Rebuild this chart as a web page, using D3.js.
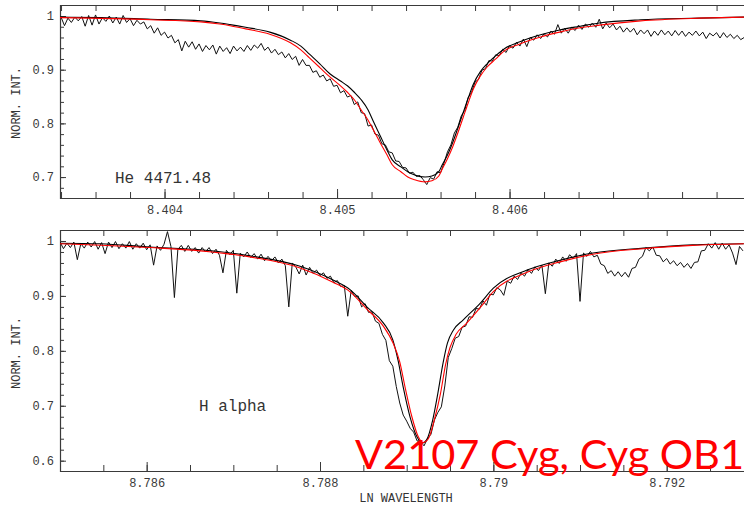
<!DOCTYPE html>
<html><head><meta charset="utf-8">
<script src="https://cdn.jsdelivr.net/npm/d3@7"></script>
<style>body{margin:0;background:#fff}svg{display:block}</style>
</head><body><svg id="c" width="744" height="505"></svg>
<script>
// ---------- DATA (wavelength = ln lambda, normalized intensity) ----------
const heObs = [
[8.40340,0.998],[8.40342,0.982],[8.40344,0.996],[8.40346,0.988],[8.40348,0.998],[8.40350,0.991],[8.40352,0.999],[8.40354,0.981],[8.40356,1.001],[8.40358,0.983],
[8.40360,1.002],[8.40362,0.985],[8.40364,0.997],[8.40366,0.990],[8.40368,1.000],[8.40370,0.987],[8.40372,0.998],[8.40374,0.985],[8.40376,1.001],[8.40378,0.988],
[8.40380,0.995],[8.40382,0.982],[8.40384,0.992],[8.40386,0.985],[8.40388,0.989],[8.40390,0.976],[8.40392,0.982],[8.40394,0.968],[8.40396,0.978],[8.40398,0.964],
[8.40400,0.970],[8.40402,0.959],[8.40404,0.964],[8.40406,0.950],[8.40408,0.956],[8.40410,0.935],[8.40412,0.953],[8.40414,0.942],[8.40416,0.952],[8.40418,0.938],
[8.40420,0.948],[8.40422,0.934],[8.40424,0.945],[8.40426,0.937],[8.40428,0.946],[8.40430,0.929],[8.40432,0.944],[8.40434,0.934],[8.40436,0.941],[8.40438,0.930],
[8.40440,0.944],[8.40442,0.935],[8.40444,0.942],[8.40446,0.934],[8.40448,0.945],[8.40450,0.936],[8.40452,0.946],[8.40454,0.940],[8.40456,0.949],[8.40458,0.936],
[8.40460,0.942],[8.40462,0.931],[8.40464,0.938],[8.40466,0.928],[8.40468,0.933],[8.40470,0.922],[8.40472,0.930],[8.40474,0.919],[8.40476,0.925],[8.40478,0.908],
[8.40480,0.919],[8.40482,0.908],[8.40484,0.908],[8.40486,0.895],[8.40488,0.898],[8.40490,0.886],[8.40492,0.890],[8.40494,0.879],[8.40496,0.883],[8.40498,0.869],
[8.40500,0.871],[8.40502,0.857],[8.40504,0.861],[8.40506,0.849],[8.40508,0.852],[8.40510,0.835],[8.40512,0.840],[8.40514,0.820],[8.40516,0.818],[8.40518,0.795],
[8.40520,0.797],[8.40522,0.780],[8.40524,0.778],[8.40526,0.762],[8.40528,0.760],[8.40530,0.747],[8.40532,0.745],[8.40534,0.730],[8.40536,0.729],[8.40538,0.718],
[8.40540,0.717],[8.40542,0.707],[8.40544,0.709],[8.40546,0.701],[8.40548,0.703],[8.40550,0.695],[8.40552,0.686],[8.40554,0.699],[8.40556,0.696],[8.40558,0.710],
[8.40560,0.708],[8.40562,0.726],[8.40564,0.747],[8.40566,0.760],[8.40568,0.782],[8.40570,0.793],[8.40572,0.814],[8.40574,0.824],[8.40576,0.848],[8.40578,0.858],
[8.40580,0.877],[8.40582,0.882],[8.40584,0.899],[8.40586,0.902],[8.40588,0.917],[8.40590,0.916],[8.40592,0.928],[8.40594,0.926],[8.40596,0.938],[8.40598,0.932],
[8.40600,0.945],[8.40602,0.940],[8.40604,0.951],[8.40606,0.944],[8.40608,0.957],[8.40610,0.943],[8.40612,0.960],[8.40614,0.955],[8.40616,0.965],[8.40618,0.958],
[8.40620,0.967],[8.40622,0.961],[8.40624,0.972],[8.40626,0.966],[8.40628,0.984],[8.40630,0.968],[8.40632,0.977],[8.40634,0.968],[8.40636,0.979],[8.40638,0.973],
[8.40640,0.983],[8.40642,0.975],[8.40644,0.985],[8.40646,0.979],[8.40648,0.987],[8.40650,0.979],[8.40652,0.994],[8.40654,0.976],[8.40656,0.987],[8.40658,0.978],
[8.40660,0.985],[8.40662,0.974],[8.40664,0.981],[8.40666,0.970],[8.40668,0.978],[8.40670,0.970],[8.40672,0.977],[8.40674,0.965],[8.40676,0.974],[8.40678,0.967],
[8.40680,0.974],[8.40682,0.962],[8.40684,0.972],[8.40686,0.964],[8.40688,0.974],[8.40690,0.965],[8.40692,0.972],[8.40694,0.963],[8.40696,0.973],[8.40698,0.964],
[8.40700,0.972],[8.40702,0.962],[8.40704,0.970],[8.40706,0.964],[8.40708,0.972],[8.40710,0.963],[8.40712,0.970],[8.40714,0.958],[8.40716,0.968],[8.40718,0.963],
[8.40720,0.969],[8.40722,0.959],[8.40724,0.969],[8.40726,0.960],[8.40728,0.966],[8.40730,0.958],[8.40732,0.964],[8.40734,0.956],[8.40736,0.960]
];
const heModelBlack = [
[8.40339,0.998],[8.40363,0.997],[8.40392,0.994],[8.40421,0.991],[8.40432,0.987],[8.40438,0.984],[8.40447,0.979],[8.40461,0.970],[8.40473,0.955],[8.40479,0.944],
[8.40484,0.929],[8.40490,0.911],[8.40496,0.892],[8.40502,0.879],[8.40506,0.870],[8.40510,0.858],[8.40514,0.844],[8.40518,0.825],[8.40521,0.804],[8.40525,0.777],
[8.40529,0.750],[8.40532,0.732],[8.40537,0.719],[8.40541,0.710],[8.40545,0.704],[8.40551,0.700],[8.40555,0.702],[8.40559,0.710],[8.40561,0.723],[8.40564,0.741],
[8.40567,0.764],[8.40570,0.791],[8.40573,0.819],[8.40576,0.847],[8.40579,0.873],[8.40583,0.896],[8.40587,0.911],[8.40592,0.926],[8.40597,0.939],[8.40606,0.952],
[8.40618,0.965],[8.40629,0.974],[8.40641,0.981],[8.40652,0.987],[8.40676,0.993],[8.40710,0.996],[8.40736,0.998]
];
const heModelRed = [
[8.40339,0.997],[8.40392,0.993],[8.40421,0.989],[8.40432,0.985],[8.40438,0.982],[8.40447,0.976],[8.40461,0.966],[8.40473,0.950],[8.40479,0.937],[8.40484,0.922],
[8.40490,0.904],[8.40496,0.886],[8.40502,0.870],[8.40506,0.858],[8.40510,0.844],[8.40514,0.825],[8.40518,0.806],[8.40521,0.788],[8.40525,0.764],[8.40529,0.741],
[8.40532,0.723],[8.40537,0.710],[8.40541,0.700],[8.40545,0.695],[8.40551,0.691],[8.40555,0.693],[8.40559,0.702],[8.40561,0.715],[8.40564,0.734],[8.40567,0.756],
[8.40570,0.782],[8.40573,0.810],[8.40576,0.838],[8.40579,0.864],[8.40583,0.888],[8.40587,0.905],[8.40592,0.920],[8.40597,0.935],[8.40606,0.948],[8.40618,0.961],
[8.40629,0.970],[8.40641,0.978],[8.40652,0.983],[8.40676,0.991],[8.40710,0.996],[8.40736,0.998]
];
const haObs = [
[8.78500,0.998],[8.78504,0.986],[8.78508,0.996],[8.78512,0.988],[8.78516,0.998],[8.78520,0.966],[8.78524,0.995],[8.78528,0.987],[8.78532,0.998],[8.78536,0.989],
[8.78540,0.999],[8.78544,0.985],[8.78548,0.997],[8.78552,0.977],[8.78556,0.998],[8.78560,0.988],[8.78564,0.999],[8.78568,0.986],[8.78572,0.995],[8.78576,0.987],
[8.78580,0.999],[8.78584,0.985],[8.78588,0.995],[8.78592,0.987],[8.78596,0.996],[8.78600,0.984],[8.78604,0.993],[8.78608,0.956],[8.78612,0.991],[8.78616,0.983],
[8.78620,0.994],[8.78624,1.017],[8.78628,0.990],[8.78632,0.897],[8.78636,0.985],[8.78640,0.992],[8.78644,0.981],[8.78648,0.992],[8.78652,0.981],[8.78656,0.988],
[8.78660,0.978],[8.78664,0.988],[8.78668,0.980],[8.78672,0.988],[8.78676,0.977],[8.78680,0.985],[8.78684,0.974],[8.78688,0.942],[8.78692,0.983],[8.78696,0.975],
[8.78700,0.983],[8.78704,0.905],[8.78708,0.978],[8.78712,0.971],[8.78716,0.980],[8.78720,0.970],[8.78724,0.977],[8.78728,0.967],[8.78732,0.976],[8.78736,0.964],
[8.78740,0.972],[8.78744,0.964],[8.78748,0.971],[8.78752,0.960],[8.78756,0.967],[8.78760,0.955],[8.78764,0.880],[8.78768,0.960],[8.78772,0.953],[8.78776,0.940],
[8.78780,0.956],[8.78784,0.938],[8.78788,0.952],[8.78792,0.941],[8.78796,0.947],[8.78800,0.937],[8.78804,0.942],[8.78808,0.932],[8.78812,0.936],[8.78816,0.924],
[8.78820,0.928],[8.78824,0.917],[8.78828,0.919],[8.78832,0.863],[8.78836,0.910],[8.78840,0.899],[8.78844,0.900],[8.78848,0.880],[8.78852,0.886],[8.78856,0.870],
[8.78860,0.871],[8.78864,0.854],[8.78868,0.850],[8.78872,0.830],[8.78876,0.819],[8.78880,0.782],[8.78884,0.772],[8.78888,0.735],[8.78892,0.705],[8.78896,0.683],
[8.78900,0.672],[8.78904,0.659],[8.78908,0.652],[8.78912,0.636],[8.78916,0.635],[8.78920,0.627],[8.78924,0.640],[8.78928,0.648],[8.78932,0.674],[8.78936,0.688],
[8.78940,0.698],[8.78944,0.736],[8.78948,0.788],[8.78952,0.804],[8.78956,0.823],[8.78960,0.826],[8.78964,0.843],[8.78968,0.845],[8.78972,0.862],[8.78976,0.861],
[8.78980,0.877],[8.78984,0.876],[8.78988,0.891],[8.78992,0.883],[8.78996,0.903],[8.79000,0.902],[8.79004,0.915],[8.79008,0.911],[8.79012,0.901],[8.79016,0.927],
[8.79020,0.923],[8.79024,0.936],[8.79028,0.930],[8.79032,0.942],[8.79036,0.936],[8.79040,0.948],[8.79044,0.941],[8.79048,0.953],[8.79052,0.946],[8.79056,0.956],
[8.79060,0.904],[8.79064,0.960],[8.79068,0.954],[8.79072,0.967],[8.79076,0.959],[8.79080,0.971],[8.79084,0.963],[8.79088,0.975],[8.79092,0.968],[8.79096,0.977],
[8.79100,0.890],[8.79104,0.978],[8.79108,0.972],[8.79112,0.981],[8.79116,0.971],[8.79120,0.974],[8.79124,0.958],[8.79128,0.955],[8.79132,0.941],[8.79136,0.946],
[8.79140,0.936],[8.79144,0.944],[8.79148,0.935],[8.79152,0.943],[8.79156,0.934],[8.79160,0.950],[8.79164,0.952],[8.79168,0.967],[8.79172,0.972],[8.79176,0.988],
[8.79180,0.982],[8.79184,0.989],[8.79188,0.974],[8.79192,0.973],[8.79196,0.962],[8.79200,0.968],[8.79204,0.958],[8.79208,0.964],[8.79212,0.955],[8.79216,0.961],
[8.79220,0.952],[8.79224,0.959],[8.79228,0.950],[8.79232,0.961],[8.79236,0.962],[8.79240,0.982],[8.79244,0.983],[8.79248,0.995],[8.79252,0.987],[8.79256,0.997],
[8.79260,0.985],[8.79264,0.996],[8.79268,0.985],[8.79272,0.993],[8.79276,0.978],[8.79280,0.957],[8.79284,0.990],[8.79288,0.982]
];
const haModelBlack = [
[8.78500,0.996],[8.78546,0.995],[8.78604,0.989],[8.78662,0.984],[8.78719,0.973],[8.78777,0.954],[8.78815,0.929],[8.78835,0.911],[8.78854,0.880],[8.78873,0.851],
[8.78884,0.820],[8.78890,0.783],[8.78896,0.734],[8.78904,0.679],[8.78912,0.643],[8.78918,0.632],[8.78923,0.638],[8.78930,0.674],[8.78936,0.723],[8.78942,0.778],
[8.78947,0.814],[8.78954,0.838],[8.78965,0.856],[8.78985,0.887],[8.79000,0.914],[8.79039,0.947],[8.79077,0.965],[8.79115,0.978],[8.79173,0.987],[8.79230,0.993],
[8.79289,0.995]
];
const haModelRed = [
[8.78500,0.995],[8.78604,0.988],[8.78662,0.982],[8.78719,0.971],[8.78777,0.951],[8.78815,0.925],[8.78835,0.907],[8.78854,0.876],[8.78873,0.845],[8.78884,0.815],
[8.78892,0.780],[8.78898,0.735],[8.78906,0.680],[8.78913,0.645],[8.78919,0.633],[8.78925,0.640],[8.78932,0.675],[8.78939,0.722],[8.78945,0.776],[8.78950,0.806],
[8.78957,0.830],[8.78969,0.850],[8.78985,0.879],[8.79000,0.908],[8.79039,0.943],[8.79077,0.962],[8.79115,0.976],[8.79173,0.986],[8.79230,0.992],[8.79289,0.995]
];
const heXLabels = [8.404, 8.405, 8.406];
const haXLabels = [8.786, 8.788, 8.79, 8.792];
const heYLabels = [0.7, 0.8, 0.9, 1];
const haYLabels = [0.6, 0.7, 0.8, 0.9, 1];
const panelLabels = ["He 4471.48", "H alpha"];
const yTitle = "NORM. INT.";
const xTitle = "LN WAVELENGTH";
const title = "V2107 Cyg, Cyg OB1";

// ---------- DRAW ----------
const svg = d3.select("#c");
svg.append("rect").attr("width",744).attr("height",505).attr("fill","#fff");
const fontMono = "'Liberation Mono','DejaVu Sans Mono',monospace";
const axisColor = "#3a3a3a";

const panels = [
  {obs: heObs, black: heModelBlack, red: heModelRed, xl: heXLabels, yl: heYLabels, label: panelLabels[0],
   xd:[8.403394, 8.407359], yd:[0.661, 1.0205], top:5, bottom:198, minorX:0.0002, xStart:8.4034, labelPos:[115,183], yTitleY:103},
  {obs: haObs, black: haModelBlack, red: haModelRed, xl: haXLabels, yl: haYLabels, label: panelLabels[1],
   xd:[8.785, 8.792892], yd:[0.5812, 1.02], top:230, bottom:471, minorX:0.0005, xStart:8.785, labelPos:[199,411], yTitleY:353}
];
const left = 60, right = 744;

panels.forEach((p, pi) => {
  const x = d3.scaleLinear().domain(p.xd).range([left, right]);
  const y = d3.scaleLinear().domain(p.yd).range([p.bottom, p.top]);
  const g = svg.append("g");
  const clipId = "clip" + pi;
  svg.append("clipPath").attr("id", clipId).append("rect")
     .attr("x", left).attr("y", p.top).attr("width", right-left).attr("height", p.bottom-p.top);

  // minor tick values
  const nx = Math.floor((p.xd[1]-p.xStart)/p.minorX + 1e-6);
  const minorXs = d3.range(0, nx+1).map(k => +(p.xStart + k*p.minorX).toFixed(5)).filter(v => v>p.xd[0] && v<p.xd[1]);
  const y0 = Math.ceil(p.yd[0]*50)/50;
  const minorYs = d3.range(0, Math.round((1.0 - y0)*50)+1).map(k => +(y0 + k*0.02).toFixed(2));

  // bottom axis: minor ticks (inward)
  g.append("g").attr("transform",`translate(0,${p.bottom})`)
    .call(d3.axisBottom(x).tickValues(minorXs).tickSizeInner(-6).tickSizeOuter(0).tickFormat(""))
    .call(s => s.select(".domain").remove());
  // bottom axis: major ticks + labels
  g.append("g").attr("transform",`translate(0,${p.bottom})`)
    .call(d3.axisBottom(x).tickValues(p.xl).tickSizeInner(-9).tickSizeOuter(0).tickPadding(7.5).tickFormat(d => String(d)))
    .call(s => s.select(".domain").remove());
  // top border ticks
  g.append("g").attr("transform",`translate(0,${p.top})`)
    .call(d3.axisTop(x).tickValues(minorXs).tickSizeInner(-6).tickSizeOuter(0).tickFormat(""))
    .call(s => s.select(".domain").remove());
  // left axis minor
  g.append("g").attr("transform",`translate(${left},0)`)
    .call(d3.axisLeft(y).tickValues(minorYs).tickSizeInner(-4).tickSizeOuter(0).tickFormat(""))
    .call(s => s.select(".domain").remove());
  // left axis major
  g.append("g").attr("transform",`translate(${left},0)`)
    .call(d3.axisLeft(y).tickValues(p.yl).tickSizeInner(-6).tickSizeOuter(0).tickPadding(6).tickFormat(d => String(d)))
    .call(s => s.select(".domain").remove());

  g.selectAll(".tick line").attr("stroke", axisColor).attr("stroke-width", 1);
  g.selectAll(".tick text").attr("fill", "#3a3a3a").style("font-family", fontMono).style("font-size", "12px");

  // frame
  g.append("path")
    .attr("d", `M${right},${p.top+0.5}H${left+0.5}V${p.bottom+0.5}H${right}`)
    .attr("fill","none").attr("stroke", axisColor).attr("stroke-width", 1.2);

  const line = d3.line().x(d => x(d[0])).y(d => y(d[1]));
  const smooth = d3.line().x(d => x(d[0])).y(d => y(d[1])).curve(d3.curveMonotoneX);
  const plot = svg.append("g").attr("clip-path", `url(#${clipId})`);
  plot.append("path").datum(p.obs).attr("d", line).attr("fill","none").attr("stroke","#111").attr("stroke-width",1).attr("stroke-linejoin","round");
  plot.append("path").datum(p.black).attr("d", smooth).attr("fill","none").attr("stroke","#000").attr("stroke-width",1.1);
  plot.append("path").datum(p.red).attr("d", smooth).attr("fill","none").attr("stroke","#f00").attr("stroke-width",1.1);

  // panel label
  svg.append("text").attr("x", p.labelPos[0]).attr("y", p.labelPos[1])
    .attr("fill","#333").style("font-family", fontMono).style("font-size","16px").text(p.label);
  // y title
  svg.append("text").attr("transform", `translate(20,${p.yTitleY}) rotate(-90)`)
    .attr("text-anchor","middle").attr("fill","#333").style("font-family", fontMono).style("font-size","12px").text(yTitle);
});

svg.append("text").attr("x", 406).attr("y", 502).attr("text-anchor","middle")
  .attr("fill","#333").style("font-family", fontMono).style("font-size","12px").text(xTitle);

svg.append("text").attr("x", 355).attr("y", 469)
  .attr("fill","#ff0000").style("font-family","Lato,'Open Sans',sans-serif").style("font-size","41px")
  .attr("textLength", 389).attr("lengthAdjust","spacingAndGlyphs").text(title);
</script></body></html>
